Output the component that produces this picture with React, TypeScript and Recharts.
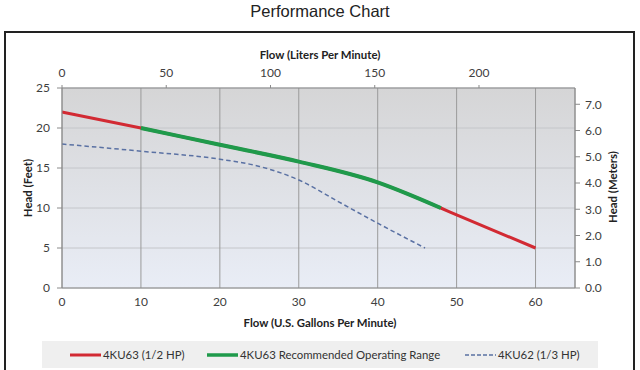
import React from 'react';
import { ComposedChart, Line, XAxis, YAxis, CartesianGrid } from 'recharts';

// ---- data ----
const gpmTicks = [0, 10, 20, 30, 40, 50, 60];
const gpmMinorTicks = [2, 4, 6, 8, 12, 14, 16, 18, 22, 24, 26, 28, 32, 34, 36, 38, 42, 44, 46, 48, 52, 54, 56, 58, 62, 64];
const lpmTicks = [0, 50, 100, 150, 200];
const lpmMinorTicks = [25, 75, 125, 175, 225];
const ftTicks = [0, 5, 10, 15, 20, 25];
const ftMinorTicks = [2.5, 7.5, 12.5, 17.5, 22.5];
const mTicks = [0, 1, 2, 3, 4, 5, 6, 7];
const mMinorTicks = [0.5, 1.5, 2.5, 3.5, 4.5, 5.5, 6.5, 7.5];

const ku63Flow = [0, 10, 20, 30, 40, 43.7, 48, 50, 60];
const ku63Head = [22, 20, 17.9, 15.8, 13.2, 11.8, 10.0, 9.15, 5];

const rangeFlow = [10, 20, 30, 40, 43.7, 48];
const rangeHead = [20, 17.9, 15.8, 13.2, 11.8, 10.0];

const ku62Flow = [0, 10, 20, 25, 30, 35, 40, 46];
const ku62Head = [18, 17.1, 16.1, 15.2, 13.5, 10.8, 8.1, 5];

const GPM_MAX = 65;
const LPM_PER_GPM = 3.78541;
const FT_MAX = 25;
const M_PER_FT = 0.3048;

const toRows = (xs: number[], ys: number[]) =>
  xs.map((x, i) => ({ gpm: x, ft: ys[i], lpm: x * LPM_PER_GPM, m: ys[i] * M_PER_FT }));
const ku63Data = toRows(ku63Flow, ku63Head);
const rangeData = toRows(rangeFlow, rangeHead);
const ku62Data = toRows(ku62Flow, ku62Head);

const FONT = 'Lato, "Open Sans", sans-serif';
const tickStyle = { fontSize: 12, fill: '#404040', fontFamily: FONT };
const axisGray = '#8a8a8a';

const RED = '#d22a33';
const GREEN = '#1f9a4b';
const BLUE = '#5a71a3';

const EmptyTick = () => <g />;

const titleStyle: React.CSSProperties = { position: 'absolute', textAlign: 'center', fontSize: 11.4, fontWeight: 700, color: '#222', lineHeight: '16px' };

export default function App() {
  return (
    <div style={{ position: 'absolute', left: 0, top: 0, width: 640, height: 370, overflow: 'hidden', background: '#fff', fontFamily: FONT }}>
      <div style={{ position: 'absolute', left: 0, top: 0, width: 640, textAlign: 'center', fontFamily: '"Liberation Sans", Arial, sans-serif', fontSize: 16.5, color: '#222', lineHeight: '22px' }}>
        Performance Chart
      </div>
      <div style={{ position: 'absolute', left: 4, top: 31, width: 631, height: 400, border: '2px solid #222', boxSizing: 'border-box' }} />

      <div style={{ position: 'absolute', left: 0, top: 0 }}>
        <ComposedChart width={640} height={370} data={ku63Data} margin={{ top: 60, right: 0, bottom: 52, left: 0 }}>
          <defs>
            <linearGradient id="plotBg" x1="0" y1="0" x2="0" y2="1">
              <stop offset="0%" stopColor="#d5d5d6" />
              <stop offset="100%" stopColor="#e9edf6" />
            </linearGradient>
          </defs>

          <XAxis xAxisId="gpmMinor" dataKey="gpm" type="number" orientation="bottom" mirror domain={[0, GPM_MAX]} ticks={gpmMinorTicks} interval={0} allowDataOverflow height={0} tick={EmptyTick} tickSize={3} tickLine={{ stroke: axisGray }} axisLine={false} />
          <XAxis xAxisId="gpm" dataKey="gpm" type="number" orientation="bottom" domain={[0, GPM_MAX]} ticks={gpmTicks} interval={0} allowDataOverflow height={30} tick={tickStyle} tickLine={false} tickSize={4} tickMargin={5} axisLine={{ stroke: axisGray }} />

          <XAxis xAxisId="lpmMinor" dataKey="lpm" type="number" orientation="top" mirror domain={[0, GPM_MAX * LPM_PER_GPM]} ticks={lpmMinorTicks} interval={0} allowDataOverflow height={0} tick={EmptyTick} tickSize={3} tickLine={{ stroke: axisGray }} axisLine={false} />
          <XAxis xAxisId="lpm" dataKey="lpm" type="number" orientation="top" domain={[0, GPM_MAX * LPM_PER_GPM]} ticks={lpmTicks} interval={0} allowDataOverflow height={28} tick={tickStyle} tickLine={{ stroke: axisGray }} tickSize={3} tickMargin={8} axisLine={{ stroke: axisGray }} />

          <YAxis yAxisId="ftMinor" dataKey="ft" type="number" orientation="left" mirror domain={[0, FT_MAX]} ticks={ftMinorTicks} interval={0} allowDataOverflow width={0} tick={EmptyTick} tickSize={3} tickLine={{ stroke: axisGray }} axisLine={false} />
          <YAxis yAxisId="ft" dataKey="ft" type="number" orientation="left" domain={[0, FT_MAX]} ticks={ftTicks} interval={0} allowDataOverflow width={62} tick={tickStyle} tickLine={{ stroke: axisGray }} tickSize={5} tickMargin={7} axisLine={{ stroke: axisGray }} />

          <YAxis yAxisId="mMinor" dataKey="m" type="number" orientation="right" mirror domain={[0, FT_MAX * M_PER_FT]} ticks={mMinorTicks} interval={0} allowDataOverflow width={0} tick={EmptyTick} tickSize={3} tickLine={{ stroke: axisGray }} axisLine={false} />
          <YAxis yAxisId="m" dataKey="m" type="number" orientation="right" domain={[0, FT_MAX * M_PER_FT]} ticks={mTicks} interval={0} allowDataOverflow width={65} tick={tickStyle} tickFormatter={(v: number) => v.toFixed(1)} tickLine={{ stroke: axisGray }} tickSize={5} tickMargin={5} axisLine={{ stroke: axisGray }} />

          <CartesianGrid xAxisId="gpm" yAxisId="ft" vertical={false} horizontal stroke="#c4c6ca" fill="url(#plotBg)" fillOpacity={1} />
          <CartesianGrid xAxisId="gpm" yAxisId="ft" vertical horizontal={false} stroke="#9a9a9a" />

          <Line xAxisId="gpm" yAxisId="ft" data={ku62Data} dataKey="ft" type="monotone" stroke={BLUE} strokeWidth={1.5} strokeDasharray="4.5 3" dot={false} activeDot={false} isAnimationActive={false} />
          <Line xAxisId="gpm" yAxisId="ft" data={ku63Data} dataKey="ft" type="monotone" stroke={RED} strokeWidth={3} dot={false} activeDot={false} isAnimationActive={false} />
          <Line xAxisId="gpm" yAxisId="ft" data={rangeData} dataKey="ft" type="monotone" stroke={GREEN} strokeWidth={4} dot={false} activeDot={false} isAnimationActive={false} />
        </ComposedChart>
      </div>

      <div style={{ ...titleStyle, left: 0, top: 47, width: 640 }}>Flow (Liters Per Minute)</div>
      <div style={{ ...titleStyle, left: 0, top: 315, width: 640 }}>Flow (U.S. Gallons Per Minute)</div>
      <div style={{ ...titleStyle, left: 28 - 60, top: 188 - 8, width: 120, transform: 'rotate(-90deg)' }}>Head (Feet)</div>
      <div style={{ ...titleStyle, left: 613 - 60, top: 187 - 8, width: 120, transform: 'rotate(-90deg)' }}>Head (Meters)</div>

      <div style={{ position: 'absolute', left: 42, top: 341, width: 556, height: 27, background: '#efefef' }}>
        {[
          { x: 28, color: RED, dash: undefined as string | undefined, w: 3, label: '4KU63 (1/2 HP)' },
          { x: 165, color: GREEN, dash: undefined as string | undefined, w: 3.5, label: '4KU63 Recommended Operating Range' },
          { x: 423, color: BLUE, dash: '4 2', w: 1.5, label: '4KU62 (1/3 HP)' },
        ].map((it) => (
          <div key={it.label} style={{ position: 'absolute', left: it.x, top: 0, height: 27, display: 'flex', alignItems: 'center', whiteSpace: 'nowrap' }}>
            <svg width={31} height={8} style={{ display: 'block' }}>
              <line x1={0} y1={4} x2={31} y2={4} stroke={it.color} strokeWidth={it.w} strokeDasharray={it.dash} />
            </svg>
            <span style={{ marginLeft: 2, fontSize: 11.4, color: '#333', lineHeight: '16px' }}>{it.label}</span>
          </div>
        ))}
      </div>
    </div>
  );
}
